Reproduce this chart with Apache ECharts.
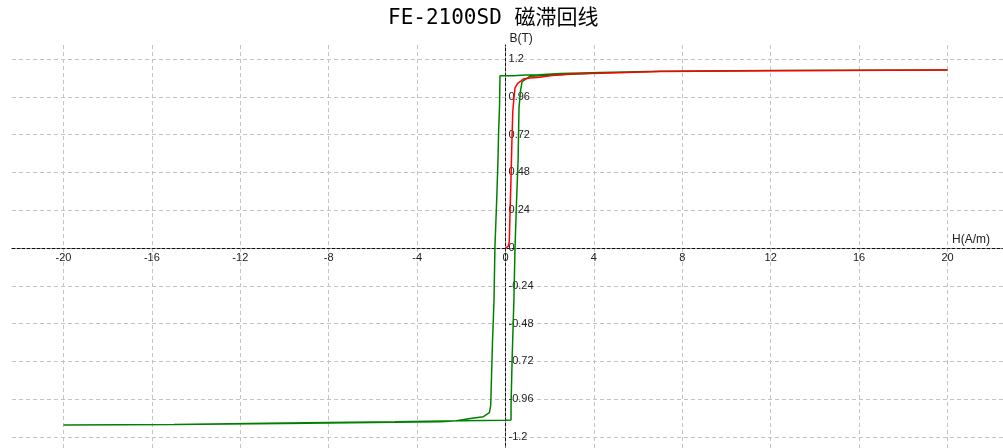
<!DOCTYPE html>
<html>
<head>
<meta charset="utf-8">
<script src="https://cdn.jsdelivr.net/npm/echarts@6/dist/echarts.min.js"></script>
<style>
  html, body { margin: 0; padding: 0; background: #fff; }
  #chart { width: 1003px; height: 448px; }
</style>
</head>
<body>
<div id="chart"></div>
<script>
// tick positions
const xTicks = [-20, -16, -12, -8, -4, 0, 4, 8, 12, 16, 20];
const yTicks = [-1.2, -0.96, -0.72, -0.48, -0.24, 0, 0.24, 0.48, 0.72, 0.96, 1.2];

// initial magnetization curve (red)
const initH = [0, 0.12, 0.17, 0.21, 0.25, 0.29, 0.33, 0.38, 0.43, 0.55, 0.66, 0.8, 1.1, 1.56, 2.0, 2.9, 4.3, 7, 12, 20];
const initB = [0, 0.01, 0.04, 0.25, 0.45, 0.68, 0.87, 0.95, 1.016, 1.045, 1.056, 1.073, 1.08, 1.084, 1.094, 1.105, 1.109, 1.12, 1.126, 1.13];

// hysteresis loop (green): descending branch then ascending branch
const loopH = [20, 12, 7, 4.3, 2.5, 1.5, 0.9, 0.35, -0.25, -0.27, -0.31, -0.34, -0.4, -0.48, -0.52, -0.59, -0.67, -0.73, -1.0, -1.6, -2.29, -2.96, -5, -10, -15, -20,
               -15, -10, -5, -2, 0, 0.25, 0.25, 0.3, 0.38, 0.43, 0.5, 0.57, 0.61, 0.68, 0.75, 1.1, 2.5, 4.3, 7, 12, 20];
const loopB = [1.13, 1.127, 1.122, 1.115, 1.108, 1.1, 1.098, 1.094, 1.094, 0.9, 0.75, 0.56, 0.3, 0, -0.33, -0.6, -1.0, -1.046, -1.071, -1.083, -1.098, -1.103, -1.107, -1.114, -1.12, -1.124,
               -1.12, -1.112, -1.104, -1.097, -1.093, -1.092, -1.0, -0.7, -0.33, 0, 0.3, 0.56, 0.89, 1.0, 1.056, 1.09, 1.1, 1.113, 1.122, 1.127, 1.13];

const zip = (xs, ys) => xs.map((x, i) => [x, ys[i]]);

const chart = echarts.init(document.getElementById('chart'));

// grid geometry: zero of both axes sits at (505.5, 248)
const gridLeft = 12, gridTop = 45, gridWidth = 991, gridHeight = 406;
const xMin = -22.33, xMax = 22.51, yMin = -1.289, yMax = 1.289;
const zeroX = gridLeft + (0 - xMin) / (xMax - xMin) * gridWidth;
const zeroY = gridTop + (yMax - 0) / (yMax - yMin) * gridHeight;

const gridLine = { show: true, lineStyle: { color: '#c4c4c4', type: [4, 3], width: 1 } };
const axisLineStyle = { show: true, onZero: false, lineStyle: { color: '#111', type: [3, 2], width: 1 } };
const labelFont = { color: '#222', fontSize: 11, fontFamily: 'Liberation Sans, Arial, sans-serif' };

const option = {
    animation: false,
    backgroundColor: '#fff',
    title: {
        text: 'FE-2100SD 磁滞回线',
        left: 383,
        top: 3,
        textStyle: {
            fontFamily: '"DejaVu Sans Mono", "Noto Sans CJK SC", monospace',
            fontSize: 21,
            fontWeight: 'normal',
            color: '#000'
        }
    },
    grid: {
        left: gridLeft,
        top: gridTop,
        width: gridWidth,
        height: gridHeight,
        containLabel: false,
        outerBoundsMode: 'none'
    },
    xAxis: {
        type: 'value',
        position: 'bottom',
        offset: -(gridTop + gridHeight - zeroY),
        min: xMin,
        max: xMax,
        name: 'H(A/m)',
        nameLocation: 'end',
        nameGap: -51,
        nameTextStyle: Object.assign({}, labelFont, {
            fontSize: 12,
            align: 'left',
            verticalAlign: 'bottom',
            padding: [0, 0, 2, 0]
        }),
        axisLine: axisLineStyle,
        axisTick: { show: false, customValues: xTicks },
        axisLabel: Object.assign({ customValues: xTicks, margin: 4 }, labelFont),
        splitLine: gridLine
    },
    yAxis: {
        type: 'value',
        position: 'left',
        offset: -(zeroX - gridLeft),
        min: yMin,
        max: yMax,
        name: 'B(T)',
        nameLocation: 'end',
        nameGap: 0,
        nameTextStyle: Object.assign({}, labelFont, {
            fontSize: 12,
            align: 'left',
            verticalAlign: 'bottom',
            padding: [0, 0, 0, 4]
        }),
        axisLine: axisLineStyle,
        axisTick: { show: false, customValues: yTicks },
        axisLabel: Object.assign({ customValues: yTicks, inside: true, margin: 3 }, labelFont),
        splitLine: gridLine
    },
    series: [
        {
            name: 'loop',
            type: 'line',
            data: zip(loopH, loopB),
            showSymbol: false,
            lineStyle: { color: '#008000', width: 1.5 },
            itemStyle: { color: '#008000' },
            z: 3
        },
        {
            name: 'initial',
            type: 'line',
            data: zip(initH, initB),
            showSymbol: false,
            lineStyle: { color: '#ff0000', width: 1.5 },
            itemStyle: { color: '#ff0000' },
            z: 4
        }
    ]
};

chart.setOption(option);
</script>
</body>
</html>
